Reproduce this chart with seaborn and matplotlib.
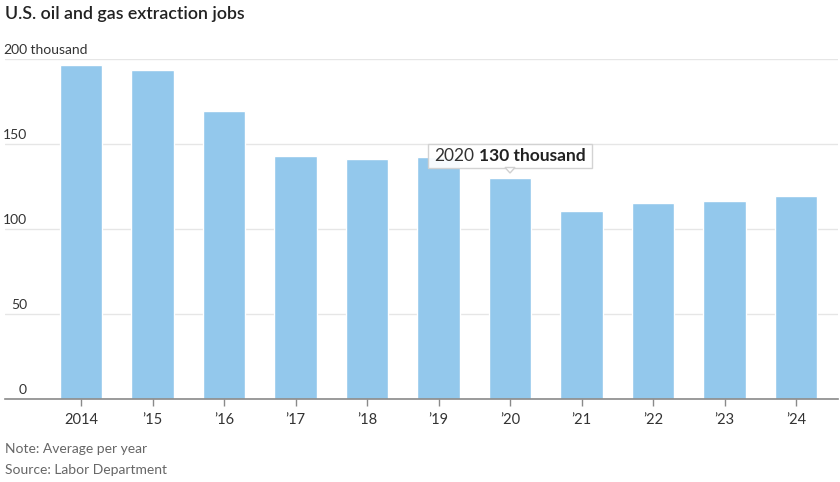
import matplotlib
matplotlib.use("Agg")
import matplotlib.pyplot as plt
from matplotlib.patches import Rectangle, Polygon
from matplotlib.transforms import IdentityTransform
import seaborn as sns
import pandas as pd

# Annual average employment, thousands
years = ["2014", "2015", "2016", "2017", "2018", "2019", "2020", "2021", "2022", "2023", "2024"]
tick_labels = ["2014", "\u201915", "\u201916", "\u201917", "\u201918", "\u201919", "\u201920",
               "\u201921", "\u201922", "\u201923", "\u201924"]
jobs = [196.6, 193.4, 169.4, 143.1, 141.2, 142.2, 130.0, 110.8, 115.1, 116.5, 119.4]
y_ticks = [0, 50, 100, 150, 200]
highlight_year = "2020"

title = "U.S. oil and gas extraction jobs"
note = "Note: Average per year"
source = "Source: Labor Department"

BAR = "#93c8ec"
TEXT = "#333333"
MUTED = "#666666"
GRID = "#e6e6e6"

sns.set_theme(style="white")
plt.rcParams["font.family"] = ["Lato", "DejaVu Sans"]

df = pd.DataFrame({"year": years, "jobs": jobs})

W, H = 840, 482
fig = plt.figure(figsize=(W / 100, H / 100), dpi=100)
ax = fig.add_axes([5 / W, 1 - 399 / H, (838 - 5) / W, (399 - 59) / H])

sns.barplot(data=df, x="year", y="jobs", order=years, color=BAR, saturation=1,
            width=0.59, ax=ax, zorder=2)

ax.set_ylim(0, 200)
ax.set_xlim(-1.063, len(years) - 1 + 0.587)
ax.set_xlabel("")
ax.set_ylabel("")

for s in ["top", "right", "left"]:
    ax.spines[s].set_visible(False)
ax.spines["bottom"].set_color("#8a8a8a")
ax.spines["bottom"].set_linewidth(1.2)

ax.set_yticks(y_ticks)
ax.yaxis.grid(True, color=GRID, linewidth=1)
ax.set_axisbelow(True)
ax.tick_params(axis="y", left=False, labelleft=False)

ax.set_xticks(range(len(years)))
ax.set_xticklabels(tick_labels)
ax.tick_params(axis="x", bottom=True, direction="out", length=5, width=1,
               color="#8a8a8a", pad=5, labelsize=10.5, labelcolor=TEXT)

# y labels sitting right above their gridlines
ytr = ax.get_yaxis_transform()
for v in y_ticks:
    t = ax.annotate(f"{v}", xy=(0, v), xycoords=ytr, xytext=(22, 3),
                    textcoords="offset pixels", ha="right", va="bottom",
                    fontsize=10, color=TEXT, annotation_clip=False)
    if v == y_ticks[-1]:
        ax.annotate(" thousand", xy=(1, 0), xycoords=t, ha="left", va="bottom",
                    fontsize=10, color=TEXT, annotation_clip=False)

# Titles and notes
fig.text(5 / W, 1 - 14 / H, title, fontsize=12.8, fontweight="semibold", color="#222222",
         va="center", ha="left")
fig.text(5 / W, 1 - 449 / H, note, fontsize=10, color=MUTED, va="center", ha="left")
fig.text(5 / W, 1 - 470 / H, source, fontsize=10, color=MUTED, va="center", ha="left")

# Tooltip above the highlighted bar
i = years.index(highlight_year)
val = jobs[i]
renderer = fig.canvas.get_renderer()
part1 = f"{highlight_year}"
part2 = f"{val:.0f} thousand"
fs = 12.5
gap = 5
t1 = ax.annotate(part1, xy=(i, val), xytext=(0, 0), textcoords="offset pixels",
                 ha="left", va="baseline", fontsize=fs, color=TEXT, zorder=7,
                 annotation_clip=False)
t2 = ax.annotate(part2, xy=(i, val), xytext=(0, 0), textcoords="offset pixels",
                 ha="left", va="baseline", fontsize=fs, color="#222222",
                 fontweight="bold", zorder=7, annotation_clip=False)
w1 = t1.get_window_extent(renderer).width
w2 = t2.get_window_extent(renderer).width
total = w1 + gap + w2
base_off = 17
t1.set_position((-total / 2, base_off))
t2.set_position((-total / 2 + w1 + gap, base_off))
fig.canvas.draw()
b1 = t1.get_window_extent(renderer)
b2 = t2.get_window_extent(renderer)
x0, x1 = min(b1.x0, b2.x0) - 6, max(b1.x1, b2.x1) + 6
y0, y1 = min(b1.y0, b2.y0) - 4, max(b1.y1, b2.y1) + 4
box = Rectangle((x0, y0), x1 - x0, y1 - y0, transform=IdentityTransform(),
                facecolor="white", edgecolor="#d0d0d0", linewidth=1, alpha=0.92,
                zorder=5, clip_on=False)
ax.add_artist(box)
cx = ax.transData.transform((i, val))[0]
notch = Polygon([(cx - 5, y0 + 0.5), (cx + 5, y0 + 0.5), (cx, y0 - 5)], closed=True,
                transform=IdentityTransform(), facecolor="white", edgecolor="#d0d0d0",
                linewidth=1, zorder=5, clip_on=False)
ax.add_artist(notch)

fig.savefig("out.png", dpi=100)
